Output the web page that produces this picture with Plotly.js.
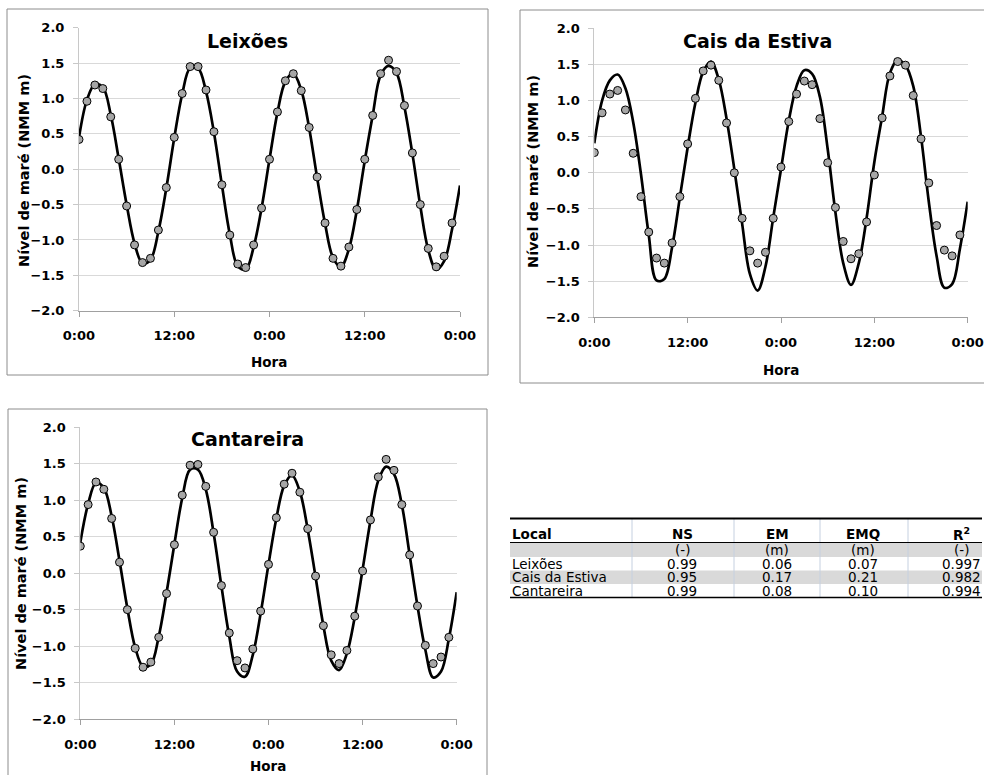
<!DOCTYPE html>
<html>
<head>
<meta charset="utf-8">
<script src="https://cdn.plot.ly/plotly-3.0.1.min.js"></script>
<style>html,body{margin:0;padding:0;background:#fff;}#chart{width:984px;height:775px;}</style>
</head>
<body>
<div id="chart"></div>
<script>
// ---------- DATA ----------
const obsHours = [0,1,2,3,4,5,6,7,8,9,10,11,12,13,14,15,16,17,18,19,20,21,22,23,24,25,26,27,28,29,30,31,32,33,34,35,36,37,38,39,40,41,42,43,44,45,46,47];
const modelHours = [0,1,2,3,4,5,6,7,8,9,10,11,12,13,14,15,16,17,18,19,20,21,22,23,24,25,26,27,28,29,30,31,32,33,34,35,36,37,38,39,40,41,42,43,44,45,46,47,48];

const xTickVals = [0,12,24,36,48];
const xTickText = ['0:00','12:00','0:00','12:00','0:00'];

const stations = ['Leixões','Cais da Estiva','Cantareira'];

const leixoesObs = [0.42,0.96,1.19,1.14,0.74,0.14,-0.52,-1.07,-1.32,-1.26,-0.86,-0.26,0.45,1.07,1.45,1.45,1.12,0.53,-0.22,-0.93,-1.34,-1.39,-1.07,-0.55,0.14,0.81,1.25,1.35,1.11,0.59,-0.11,-0.76,-1.26,-1.37,-1.10,-0.57,0.14,0.76,1.35,1.54,1.38,0.90,0.23,-0.50,-1.12,-1.38,-1.23,-0.76];
const leixoesModel = [0.45,0.98,1.20,1.16,0.77,0.15,-0.50,-1.05,-1.33,-1.28,-0.88,-0.27,0.44,1.06,1.43,1.43,1.10,0.52,-0.22,-0.92,-1.37,-1.42,-1.10,-0.55,0.14,0.80,1.24,1.35,1.12,0.58,-0.12,-0.77,-1.25,-1.38,-1.13,-0.58,0.12,0.76,1.33,1.46,1.36,0.88,0.22,-0.52,-1.14,-1.42,-1.30,-0.85,-0.23];

const caisObs = [0.28,0.83,1.09,1.14,0.87,0.27,-0.33,-0.82,-1.18,-1.25,-0.97,-0.33,0.40,1.03,1.41,1.49,1.28,0.69,0.00,-0.63,-1.08,-1.25,-1.10,-0.63,0.08,0.71,1.09,1.27,1.22,0.75,0.14,-0.48,-0.95,-1.19,-1.12,-0.68,-0.03,0.76,1.34,1.54,1.49,1.07,0.47,-0.14,-0.73,-1.07,-1.15,-0.86];
const caisModel = [0.41,1.00,1.28,1.36,1.17,0.70,-0.02,-0.86,-1.49,-1.47,-1.03,-0.34,0.35,0.97,1.40,1.54,1.29,0.75,0.05,-0.70,-1.40,-1.63,-1.30,-0.62,0.05,0.72,1.20,1.42,1.37,1.05,0.33,-0.55,-1.25,-1.55,-1.25,-0.63,0.15,0.78,1.38,1.56,1.49,1.20,0.50,-0.40,-1.15,-1.59,-1.54,-1.05,-0.40];

const cantareiraObs = [0.37,0.94,1.25,1.15,0.75,0.15,-0.50,-1.03,-1.29,-1.22,-0.88,-0.28,0.39,1.07,1.48,1.49,1.19,0.56,-0.17,-0.82,-1.20,-1.30,-1.04,-0.52,0.12,0.76,1.22,1.37,1.11,0.61,-0.04,-0.72,-1.12,-1.24,-1.06,-0.59,0.03,0.73,1.32,1.56,1.41,0.94,0.25,-0.45,-0.99,-1.24,-1.15,-0.88];
const cantareiraModel = [0.42,0.95,1.24,1.17,0.78,0.17,-0.48,-1.02,-1.28,-1.25,-0.87,-0.27,0.40,1.03,1.42,1.42,1.15,0.55,-0.18,-0.87,-1.35,-1.42,-1.12,-0.55,0.12,0.75,1.20,1.34,1.12,0.60,-0.05,-0.72,-1.20,-1.33,-1.10,-0.60,0.05,0.72,1.27,1.46,1.36,0.94,0.25,-0.45,-1.05,-1.43,-1.35,-0.90,-0.26];

const yAxisTitle = 'Nível de maré (NMM m)';
const xAxisTitle = 'Hora';

// Table data
const tableHeader = ['Local','NS','EM','EMQ','R<sup>2</sup>'];
const tableUnits = ['','(-)','(m)','(m)','(-)'];
const tableNS = [0.99,0.95,0.99];
const tableEM = [0.06,0.17,0.08];
const tableEMQ = [0.07,0.21,0.10];
const tableR2 = [0.997,0.982,0.994];

// ---------- LAYOUT (pixel geometry) ----------
const W = 984, H = 775;
const px = x => x / W;
const py = y => 1 - y / H;

const panels = [
  {obs: leixoesObs, model: leixoesModel, name: stations[0],
   plot: [79, 27.7, 460, 310.7], border: [7, 9, 488, 375],
   title: [247, 41], ytitle: [24, 171], xtitle: [269, 362]},
  {obs: caisObs, model: caisModel, name: stations[1],
   plot: [594.3, 28.3, 967.7, 317.3], border: [520, 10, 990, 383],
   title: [757, 41], ytitle: [533, 172], xtitle: [781, 370]},
  {obs: cantareiraObs, model: cantareiraModel, name: stations[2],
   plot: [80.3, 427.3, 456.7, 719], border: [8, 409, 487, 790],
   title: [248, 439], ytitle: [21, 574], xtitle: [268, 766]}
];

const chartFont = '"DejaVu Sans", sans-serif';
const tableFont = '"DejaVu Sans", "Liberation Sans", Arial, sans-serif';

const traces = [];
const layout = {
  width: W, height: H,
  margin: {l: 0, r: 0, t: 0, b: 0},
  paper_bgcolor: '#ffffff', plot_bgcolor: 'rgba(0,0,0,0)',
  showlegend: false,
  annotations: [], shapes: []
};

panels.forEach((p, i) => {
  const sfx = i === 0 ? '' : String(i + 1);
  const xa = 'x' + sfx, ya = 'y' + sfx;
  traces.push({
    x: modelHours, y: p.model, xaxis: xa, yaxis: ya, type: 'scatter', mode: 'lines',
    line: {color: '#000000', width: 2.7, shape: 'spline', smoothing: 1}, hoverinfo: 'skip'
  });
  traces.push({
    x: obsHours, y: p.obs, xaxis: xa, yaxis: ya, type: 'scatter', mode: 'markers',
    marker: {symbol: 'circle', size: 8, color: '#a6a6a6', line: {color: '#000000', width: 1}}, hoverinfo: 'skip'
  });
  layout['xaxis' + sfx] = {
    domain: [px(p.plot[0]), px(p.plot[2])], anchor: ya, range: [0, 48],
    tickvals: xTickVals, ticktext: xTickText, ticks: 'outside', ticklen: 5, tickcolor: '#a0a0a0',
    ticklabelstandoff: 8,
    showline: true, linecolor: '#a0a0a0', linewidth: 1, showgrid: false, zeroline: false,
    tickfont: {family: chartFont, size: 13, color: '#000', weight: 'bold'}, fixedrange: true
  };
  layout['yaxis' + sfx] = {
    domain: [py(p.plot[3]), py(p.plot[1])], anchor: xa, range: [-2, 2], dtick: 0.5, tick0: 0,
    tickformat: '.1f', ticks: 'outside', ticklen: 5, tickcolor: '#c8c8c8', ticklabelstandoff: 6,
    showline: true, linecolor: '#c8c8c8', linewidth: 1, showgrid: true, gridcolor: '#d9d9d9', gridwidth: 1,
    zeroline: false, tickfont: {family: chartFont, size: 13, color: '#000', weight: 'bold'}, fixedrange: true
  };
  // Chart area border
  layout.shapes.push({type: 'rect', xref: 'paper', yref: 'paper',
    x0: px(p.border[0]), x1: px(p.border[2]), y0: py(p.border[3]), y1: py(p.border[1]),
    line: {color: '#8c8c8c', width: 1}, fillcolor: 'rgba(0,0,0,0)', layer: 'below'});
  // Panel title
  layout.annotations.push({xref: 'paper', yref: 'paper', x: px(p.title[0]), y: py(p.title[1]),
    text: p.name, showarrow: false, xanchor: 'center', yanchor: 'middle',
    font: {family: chartFont, size: 19, color: '#000', weight: 'bold'}});
  layout.annotations.push({xref: 'paper', yref: 'paper', x: px(p.ytitle[0]), y: py(p.ytitle[1]),
    text: yAxisTitle, showarrow: false, textangle: -90, xanchor: 'center', yanchor: 'middle',
    font: {family: chartFont, size: 14.5, color: '#000', weight: 'bold'}});
  layout.annotations.push({xref: 'paper', yref: 'paper', x: px(p.xtitle[0]), y: py(p.xtitle[1]),
    text: xAxisTitle, showarrow: false, xanchor: 'center', yanchor: 'middle',
    font: {family: chartFont, size: 13.5, color: '#000', weight: 'bold'}});
});

// ---------- TABLE (drawn with shapes + annotations) ----------
const tLeft = 510, tRight = 982;
const colEdges = [510, 632, 734, 820, 908, 982];
const rowTops = [518.5, 542.5, 557, 570.5, 584, 597.5]; // header, units, row1, row2, row3, bottom
const greyFill = '#d9d9d9';
function rectPx(x0, y0, x1, y1, fill) {
  layout.shapes.push({type: 'rect', xref: 'paper', yref: 'paper', x0: px(x0), x1: px(x1), y0: py(y1), y1: py(y0),
    line: {width: 0}, fillcolor: fill, layer: 'below'});
}
function linePx(x0, y0, x1, y1, color, width) {
  layout.shapes.push({type: 'line', xref: 'paper', yref: 'paper', x0: px(x0), x1: px(x1), y0: py(y0), y1: py(y1),
    line: {color: color, width: width}});
}
rectPx(tLeft, rowTops[1], tRight, rowTops[2], greyFill);
rectPx(tLeft, rowTops[3], tRight, rowTops[4], greyFill);
for (let c = 1; c < colEdges.length - 1; c++) {
  linePx(colEdges[c], rowTops[0], colEdges[c], rowTops[5], '#c5d0e0', 1);
}
linePx(tLeft, rowTops[0], tRight, rowTops[0], '#000', 2);
linePx(tLeft, rowTops[1], tRight, rowTops[1], '#000', 1);
linePx(tLeft, rowTops[5], tRight, rowTops[5], '#000', 1.5);

const colCenters = [null, 682, 777, 863, 961];
function cellText(col, rowIdx, txt, bold) {
  const yc = (rowTops[rowIdx] + rowTops[rowIdx + 1]) / 2 + (rowIdx === 0 ? 3 : 0);
  const left = col === 0;
  layout.annotations.push({xref: 'paper', yref: 'paper',
    x: left ? px(tLeft + 1) : px(colCenters[col]), y: py(yc),
    xanchor: left ? 'left' : 'center', yanchor: 'middle', showarrow: false, text: txt, borderpad: 0,
    font: {family: tableFont, size: 13.5, color: '#000', weight: bold ? 'bold' : 'normal'}});
}
tableHeader.forEach((h, c) => cellText(c, 0, h, true));
tableUnits.forEach((u, c) => { if (u) cellText(c, 1, u, false); });
stations.forEach((s, r) => {
  cellText(0, 2 + r, s, false);
  cellText(1, 2 + r, tableNS[r].toFixed(2), false);
  cellText(2, 2 + r, tableEM[r].toFixed(2), false);
  cellText(3, 2 + r, tableEMQ[r].toFixed(2), false);
  cellText(4, 2 + r, tableR2[r].toFixed(3), false);
});

Plotly.newPlot('chart', traces, layout, {staticPlot: true, displayModeBar: false});
</script>
</body>
</html>
